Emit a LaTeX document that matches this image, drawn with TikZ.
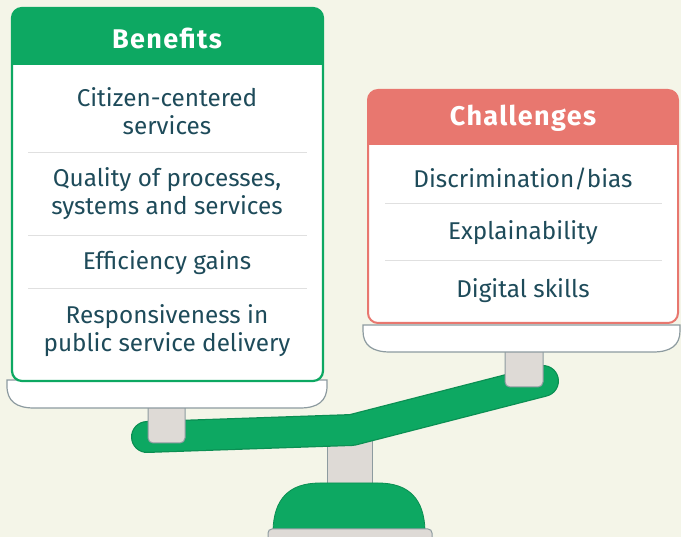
\documentclass[tikz,border=0pt]{standalone}
\usepackage{fontspec}
\setmainfont{Fira Sans}
\usepackage{tikz}

\definecolor{bg}{HTML}{F4F5E8}
\definecolor{eugreen}{HTML}{0DA862}
\definecolor{darkgreen}{HTML}{0B8F53}
\definecolor{eured}{HTML}{E8776F}
\definecolor{txt}{HTML}{1E4B5A}
\definecolor{pillar}{HTML}{DEDAD6}
\definecolor{edge}{HTML}{8D9BA0}

\tikzset{
	item/.style={text=txt, align=center, font=\fontsize{24.3}{28}\selectfont},
	head/.style={text=white, font=\bfseries\fontsize{27}{30}\selectfont\addfontfeatures{LetterSpace=5}},
	sep/.style={draw=black!12, line width=0.8pt},
	tray/.style={fill=white, draw=edge, line width=1.2pt},
	post/.style={fill=pillar, draw=edge, line width=1pt},
}

\begin{document}
\begin{tikzpicture}[x=1pt,y=-1pt]
	%BACKGROUND
	\fill[bg] (0,0) rectangle (681,537);
	\useasboundingbox (0,0) rectangle (681,537);
	
	%STAND
	\draw[post] (327,440) rectangle (372,486);		%centre post
	\draw[fill=eugreen, draw=darkgreen, line width=0.8pt] 
	(273,530) .. controls (274,500) and (288,483) .. (320,483) -- (378,483) 
	.. controls (410,483) and (424,500) .. (425,530) -- cycle;	%dome
	\draw[post, rounded corners=4] (268,540) -- (268,529) -- (432,529) -- (432,540);	%plate
	
	%BEAM
	\draw[darkgreen, line width=32, line cap=round, line join=round] 
	(147,437) -- (352,430) -- (543,381);
	\draw[eugreen, line width=29.5, line cap=round, line join=round] 
	(147,437) -- (352,430) -- (543,381);
	\draw[post, rounded corners=5] (148,400) -- (148,443) -- (185,443) -- (185,400);	%left pillar
	\draw[post, rounded corners=5] (505,345) -- (505,387) -- (543,387) -- (543,345);	%right pillar
	
	%TRAYS
	\draw[tray] (7,380) -- (327,380) -- (327,386) .. controls (327,401) and (318,408) .. (300,408) 
	-- (34,408) .. controls (16,408) and (7,401) .. (7,386) -- cycle;
	\draw[tray] (363,325) -- (680,325) -- (680,331) .. controls (680,345) and (671,352) .. (653,352) 
	-- (390,352) .. controls (372,352) and (363,345) .. (363,331) -- cycle;
	
	%BENEFITS
	\fill[white, rounded corners=10] (12,8) rectangle (323,381);
	\fill[eugreen, rounded corners=10] (12,8) rectangle (323,65);
	\fill[eugreen] (12,40) rectangle (323,65);
	\foreach \y in {152,235,288} \draw[sep] (28,\y)--(307,\y);	%separators
	\draw[eugreen, line width=2.2pt, rounded corners=10] (12,8) rectangle (323,381);
	\node[head] (benefits) at (167,38) {Benefits};
	\node[item] (citizen)  at (167,111) {Citizen-centered\\services};
	\node[item] (quality)  at (167,194) {Quality of processes,\\systems and services};
	\node[item] (effic)    at (167,263) {Efficiency gains};
	\node[item] (respons)  at (167,331) {Responsiveness in\\public service delivery};
	
	%CHALLENGES
	\fill[white, rounded corners=10] (368,90) rectangle (678,323);
	\fill[eured, rounded corners=10] (368,90) rectangle (678,145);
	\fill[eured] (368,120) rectangle (678,145);
	\foreach \y in {203,260} \draw[sep] (385,\y)--(662,\y);	%separators
	\draw[eured, line width=2pt, rounded corners=10] (368,90) rectangle (678,323);
	\node[head] (challenges) at (523,118) {Challenges};
	\node[item] (bias)    at (523,179) {Discrimination/bias};
	\node[item] (explain) at (523,233) {Explainability};
	\node[item] (skills)  at (523,291) {Digital skills};
	
%	\draw[help lines,step=50] (0,0) grid (681,537);
\end{tikzpicture}
\end{document}
